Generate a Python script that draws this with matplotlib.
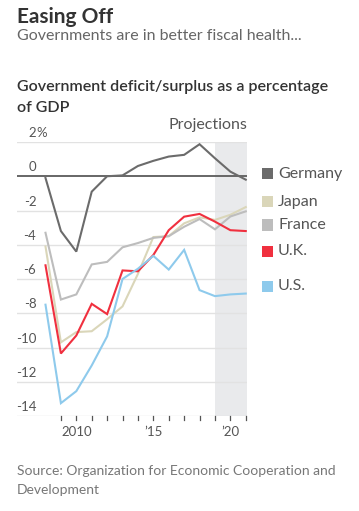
import matplotlib
matplotlib.use("Agg")
import matplotlib.pyplot as plt
from matplotlib.patches import Rectangle
import numpy as np

plt.rcParams['font.family'] = ['Lato', 'DejaVu Sans']

years = list(range(2008, 2022))

germany = [-0.1, -3.2, -4.4, -0.9, 0.0, 0.05, 0.6, 0.9, 1.15, 1.25, 1.87, 1.05, 0.27, -0.2]
japan = [-4.1, -9.7, -9.1, -9.05, -8.35, -7.6, -5.7, -3.55, -3.5, -2.75, -2.4, -2.55, -2.25, -1.8]
france = [-3.3, -7.2, -6.9, -5.15, -5.0, -4.15, -3.9, -3.6, -3.5, -2.95, -2.5, -3.1, -2.35, -2.05]
uk = [-5.2, -10.35, -9.3, -7.45, -8.05, -5.5, -5.55, -4.6, -3.15, -2.36, -2.2, -2.65, -3.15, -3.2]
us = [-7.5, -13.25, -12.55, -11.05, -9.35, -6.0, -5.4, -4.65, -5.45, -4.3, -6.65, -7.0, -6.9, -6.85]

series_names = ['Germany', 'Japan', 'France', 'U.K.', 'U.S.']
series_colors = ['#6b6b6b', '#dad6b9', '#bdbdbd', '#f0303f', '#8ecaec']

yticks = [2, 0, -2, -4, -6, -8, -10, -12, -14]
xtick_pos = [2010, 2015, 2020]
xtick_lbl = ['2010', '\u201915', '\u201920']

W, H = 359, 511
fig = plt.figure(figsize=(W / 100, H / 100), dpi=100)


def fx(px):
    return px / W


def fy(py):
    return 1 - py / H


# axes box in pixels
x0, x1 = 17, 247
y0, y1 = 142, 416
ax = fig.add_axes([fx(x0), fy(y1), fx(x1) - fx(x0), (y1 - y0) / H])
ax.set_xlim(2006.15, 2021.08)
ax.set_ylim(-14, 2)
for s in ax.spines.values():
    s.set_visible(False)
ax.set_xticks([])
ax.set_yticks([])

ax.axvspan(2019, 2021.08, color='#e9eaec', zorder=0, lw=0)

for v in yticks:
    if v == 0:
        ax.axhline(v, color='#666666', lw=1.4, zorder=3)
    else:
        ax.axhline(v, color='#e2e2e2', lw=1.0, zorder=1)
    ax.annotate(str(v), xy=(2007.4, v), xytext=(0, 2), textcoords='offset points',
                ha='right', va='bottom', fontsize=9.5, color='#555555')
ax.annotate('%', xy=(2007.4, 2), xytext=(0, 2), textcoords='offset points',
            ha='left', va='bottom', fontsize=9.5, color='#555555')

# year ticks below the axis
for yr in range(2009, 2022):
    ax.plot([yr, yr], [-14, -14.25], color='#555555', lw=0.9, clip_on=False, zorder=3)
for p, l in zip(xtick_pos, xtick_lbl):
    ax.annotate(l, xy=(p, -14), xytext=(0, -7), textcoords='offset points',
                ha='center', va='top', fontsize=9.5, color='#555555')

data = [germany, japan, france, uk, us]
order = [2, 1, 4, 3, 0]
for i in order:
    ax.plot(years, data[i], color=series_colors[i], lw=1.5, zorder=4 + i,
            solid_joinstyle='miter', clip_on=False)

ax.text(1.0, 1.035, 'Projections', transform=ax.transAxes, ha='right', va='bottom',
        fontsize=11.5, color='#555555')

# legend
leg_y = [174, 202, 225, 251, 286]
for name, c, yy in zip(series_names, series_colors, leg_y):
    fig.add_artist(Rectangle((fx(262), fy(yy + 5.5)), 11 / W, 11 / H,
                             transform=fig.transFigure, color=c, lw=0))
    fig.text(fx(278), fy(yy), name, ha='left', va='center', fontsize=11.5,
             color='#555555')

# titles
fig.text(fx(17), fy(23), 'Easing Off', ha='left', va='baseline', fontsize=15,
         fontweight='bold', color='#333333')
fig.text(fx(17), fy(39.5), 'Governments are in better fiscal health...', ha='left',
         va='baseline', fontsize=11.5, color='#666666')
fig.text(fx(17), fy(90.5), 'Government deficit/surplus as a percentage', ha='left',
         va='baseline', fontsize=11.5, fontweight='semibold', color='#333333')
fig.text(fx(17), fy(111.5), 'of GDP', ha='left', va='baseline', fontsize=11.5,
         fontweight='semibold', color='#333333')
fig.text(fx(17), fy(475), 'Source: Organization for Economic Cooperation and', ha='left',
         va='baseline', fontsize=10, color='#777777')
fig.text(fx(17), fy(493.5), 'Development', ha='left', va='baseline', fontsize=10,
         color='#777777')

fig.savefig('out.png', dpi=100)
